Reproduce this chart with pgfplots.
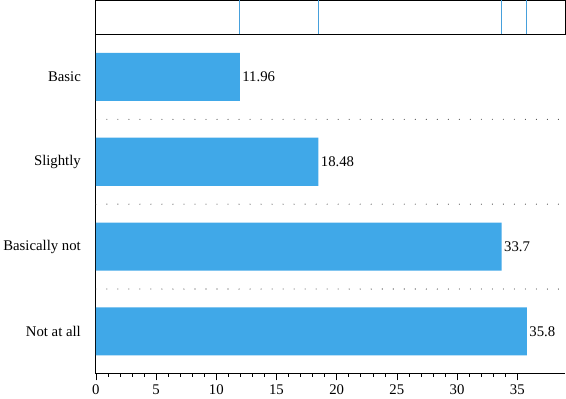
\documentclass[border=0pt]{standalone}
\usepackage{fontspec}
\setmainfont{Liberation Serif}
\usepackage{pgfplots}
\pgfplotsset{compat=1.18}
\usepackage{pgfplotstable}
\definecolor{barblue}{RGB}{64,168,232}
\definecolor{rugblue}{RGB}{70,160,220}
\pgfplotstableread{
y x lab
0 11.96 11.96
1 18.48 18.48
2 33.7 33.7
3 35.8 35.8
}\datatable
\begin{document}
\begin{tikzpicture}[font=\fontsize{14.8}{16}\selectfont]
\begin{axis}[
  at={(0,0)}, anchor=south west,
  scale only axis, width=469bp, height=339bp,
  xmin=0, xmax=39, ymin=-0.5, ymax=3.5,
  y dir=reverse,
  axis x line*=bottom, axis y line*=left,
  axis line style={black, line width=0.8pt, -},
  xbar, bar width=48bp,
  xtick={0,5,...,35}, minor x tick num=4,
  xtick align=outside,
  major tick length=6.5bp, minor tick length=3bp,
  tick style={black, line width=0.6pt},
  ytick={0,1,2,3},
  yticklabels={Basic,Slightly,Basically not,Not at all},
  y tick label style={xshift=-5bp},
  x tick label style={yshift=-1bp},
  ytick style={draw=none},
  extra y ticks={0.5,1.5,2.5},
  extra y tick labels={},
  extra y tick style={grid=major, major grid style={black!80, line width=1.1pt, line cap=round, dash pattern=on 0pt off 11bp}, tick style={draw=none}},
  /pgf/number format/assume math mode=true,
  nodes near coords, point meta=explicit symbolic,
  nodes near coords style={anchor=west, xshift=-1bp},
  clip=false,
]
\addplot[fill=barblue, draw=none] table[x=x, y=y, meta=lab] {\datatable};
\end{axis}
\begin{axis}[
  at={(0,339bp)}, anchor=south west,
  scale only axis, width=469bp, height=34bp,
  xmin=0, xmax=39, ymin=0, ymax=1,
  xtick=\empty, ytick=\empty,
  axis line style={black, line width=0.8pt},
]
\addplot[ycomb, no marks, draw=rugblue, line width=1.1pt] table[x=x, y expr=1] {\datatable};
\end{axis}
\end{tikzpicture}
\end{document}
